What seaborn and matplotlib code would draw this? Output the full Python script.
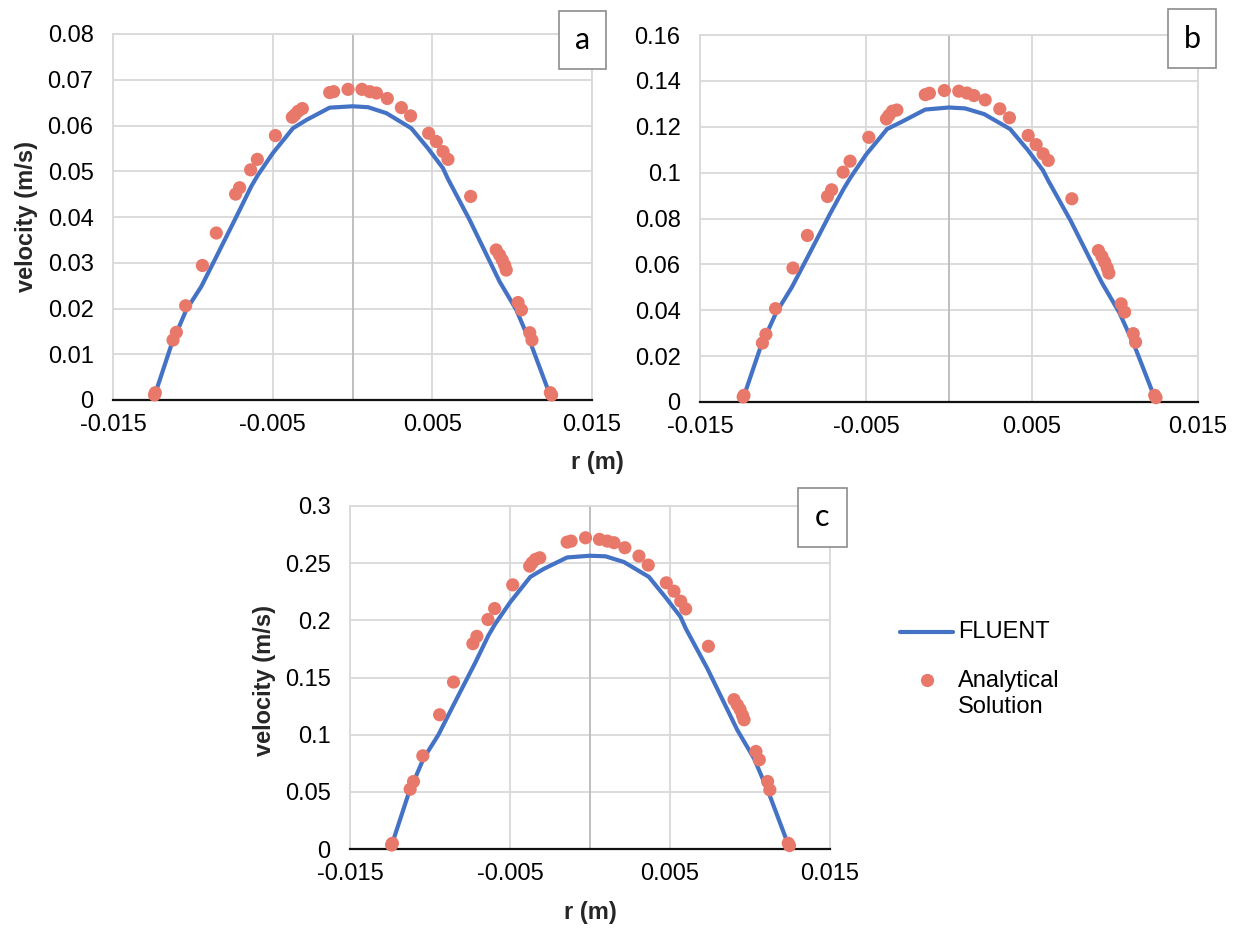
import numpy as np
import pandas as pd
import matplotlib
matplotlib.use("Agg")
import matplotlib.pyplot as plt
import seaborn as sns
from matplotlib.patches import Rectangle
from matplotlib.lines import Line2D

# ---------------- data ----------------
r_analytical = [-0.0124, -0.01235, -0.01124, -0.01103, -0.01045, -0.0094, -0.00853,
                -0.00732, -0.00707, -0.00638, -0.00596, -0.00483, -0.00377, -0.00362,
                -0.00341, -0.00314, -0.00143, -0.00118, -0.00028,
                0.00059, 0.00108, 0.0015, 0.00218, 0.00306, 0.00364, 0.00477, 0.00525,
                0.00567, 0.00598, 0.0074, 0.009, 0.00921, 0.00938, 0.00953, 0.00963,
                0.01037, 0.01058, 0.0111, 0.01124, 0.01239, 0.01247]

v_analytical_a = [0.0011, 0.0016, 0.0131, 0.0148, 0.0206, 0.0294, 0.0365, 0.0450, 0.0464,
                  0.0503, 0.0526, 0.0578, 0.0618, 0.0623, 0.0631, 0.0637, 0.0672, 0.0674,
                  0.0679,
                  0.0679, 0.0674, 0.0671, 0.0659, 0.0639, 0.0621, 0.0583, 0.0565, 0.0543,
                  0.0526, 0.0445, 0.0328, 0.0317, 0.0306, 0.0295, 0.0284, 0.0213, 0.0197,
                  0.0147, 0.0131, 0.0016, 0.0011]

v_analytical_b = [0.0022, 0.0029, 0.0257, 0.0295, 0.0407, 0.0584, 0.0726, 0.0896, 0.0925,
                  0.1002, 0.1050, 0.1154, 0.1234, 0.1249, 0.1268, 0.1273, 0.1340, 0.1346,
                  0.1358,
                  0.1355, 0.1347, 0.1336, 0.1317, 0.1278, 0.1239, 0.1162, 0.1122, 0.1082,
                  0.1053, 0.0886, 0.0660, 0.0635, 0.0610, 0.0585, 0.0562, 0.0428, 0.0392,
                  0.0298, 0.0261, 0.0029, 0.0019]

v_analytical_c = [0.0035, 0.0050, 0.0523, 0.0590, 0.0815, 0.1174, 0.1460, 0.1796, 0.1860,
                  0.2007, 0.2103, 0.2310, 0.2474, 0.2503, 0.2533, 0.2547, 0.2684, 0.2693,
                  0.2722,
                  0.2708, 0.2693, 0.2679, 0.2635, 0.2562, 0.2483, 0.2328, 0.2255, 0.2167,
                  0.2100, 0.1773, 0.1306, 0.1260, 0.1220, 0.1170, 0.1130, 0.0853, 0.0780,
                  0.0590, 0.0517, 0.0050, 0.0030]

r_fluent = [-0.01224, -0.01135, -0.01041, -0.00947, -0.00853, -0.00717, -0.00634, -0.00592,
            -0.00498, -0.00373, -0.00289, -0.00143, 0.0, 0.00097, 0.00212, 0.00368,
            0.00473, 0.00566, 0.00598, 0.00733, 0.00921, 0.01026, 0.0112, 0.01225]

v_fluent_a = [0.0026, 0.0120, 0.0197, 0.0248, 0.0313, 0.0408, 0.0467, 0.0492, 0.0540,
              0.0594, 0.0612, 0.0639, 0.0642, 0.0640, 0.0627, 0.0594, 0.0550, 0.0507,
              0.0483, 0.0394, 0.0259, 0.0197, 0.0120, 0.0022]

v_fluent_b = [0.0050, 0.0240, 0.0390, 0.0500, 0.0630, 0.0820, 0.0930, 0.0980, 0.1080,
              0.1190, 0.1220, 0.1275, 0.1284, 0.1280, 0.1255, 0.1190, 0.1100, 0.1010,
              0.0965, 0.0790, 0.0520, 0.0390, 0.0240, 0.0045]

v_fluent_c = [0.0100, 0.0480, 0.0790, 0.1000, 0.1260, 0.1630, 0.1870, 0.1970, 0.2160,
              0.2380, 0.2450, 0.2550, 0.2565, 0.2560, 0.2510, 0.2380, 0.2200, 0.2030,
              0.1930, 0.1580, 0.1040, 0.0790, 0.0480, 0.0090]

x_ticks = [-0.015, -0.005, 0.005, 0.015]
x_tick_labels = ["-0.015", "-0.005", "0.005", "0.015"]
y_ticks_a = [0, 0.01, 0.02, 0.03, 0.04, 0.05, 0.06, 0.07, 0.08]
y_ticks_b = [0, 0.02, 0.04, 0.06, 0.08, 0.1, 0.12, 0.14, 0.16]
y_ticks_c = [0, 0.05, 0.1, 0.15, 0.2, 0.25, 0.3]
panel_letters = ["a", "b", "c"]
legend_labels = ["FLUENT", "Analytical\nSolution"]
x_label = "r (m)"
y_label = "velocity (m/s)"

# ---------------- style ----------------
sns.set_theme(style="white")
plt.rcParams["font.family"] = ["Liberation Sans", "DejaVu Sans"]

LINE_C = "#4472C4"
DOT_C = "#E8786A"
GRID_C = "#D9D9D9"
TICK_FS = 17
LABEL_FS = 17

W, H = 1241, 931
fig = plt.figure(figsize=(W / 100, H / 100), dpi=100)


def px_rect(x0, y0, x1, y1):
    return [x0 / W, 1 - y1 / H, (x1 - x0) / W, (y1 - y0) / H]


ax_a = fig.add_axes(px_rect(113, 34, 592, 400))
ax_b = fig.add_axes(px_rect(700, 35, 1198, 402))
ax_c = fig.add_axes(px_rect(350, 506, 830, 849))

panels = [
    (ax_a, v_fluent_a, v_analytical_a, y_ticks_a),
    (ax_b, v_fluent_b, v_analytical_b, y_ticks_b),
    (ax_c, v_fluent_c, v_analytical_c, y_ticks_c),
]

for ax, vf, va, yt in panels:
    df_f = pd.DataFrame({"r": r_fluent, "v": vf})
    df_a = pd.DataFrame({"r": r_analytical, "v": va})
    ax.set_axisbelow(True)
    ax.grid(True, color=GRID_C, lw=1.3)
    ax.axvline(0, color="#BFBFBF", lw=1.4, zorder=1)
    sns.lineplot(data=df_f, x="r", y="v", ax=ax, color=LINE_C, lw=3.0,
                 sort=False, estimator=None, zorder=2)
    sns.scatterplot(data=df_a, x="r", y="v", ax=ax, color=DOT_C, s=90,
                    edgecolor="none", linewidth=0, zorder=3, clip_on=False)
    ax.set_xlim(-0.015, 0.015)
    ax.set_ylim(0, yt[-1])
    ax.set_xticks(x_ticks)
    ax.set_xticklabels(x_tick_labels)
    ax.set_yticks(yt)
    ax.set_yticklabels([f"{t:g}" for t in yt])
    ax.tick_params(axis="both", length=0, labelsize=TICK_FS, colors="#000000")
    ax.tick_params(axis="y", pad=14)
    ax.tick_params(axis="x", pad=10)
    for side in ["left", "top", "right"]:
        ax.spines[side].set_color(GRID_C)
        ax.spines[side].set_linewidth(1.3)
    ax.spines["bottom"].set_color("#111111")
    ax.spines["bottom"].set_linewidth(1.6)
    ax.spines["bottom"].set_zorder(2.5)
    ax.set_xlabel("")
    ax.set_ylabel("")

# axis titles
ax_a.set_ylabel(y_label, fontsize=LABEL_FS, fontweight="bold")
ax_a.yaxis.set_label_coords((27 - 113) / 479, 0.5)
ax_a.yaxis.label.set_va("center")
ax_a.set_xlabel(x_label, fontsize=LABEL_FS, fontweight="bold")
ax_a.xaxis.set_label_coords((597 - 113) / 479, (400 - 463) / 366)
ax_a.xaxis.label.set_va("center")

ax_c.set_ylabel(y_label, fontsize=LABEL_FS, fontweight="bold")
ax_c.yaxis.set_label_coords((265 - 350) / 480, (849 - 680) / 343)
ax_c.yaxis.label.set_va("center")
ax_c.set_xlabel(x_label, fontsize=LABEL_FS, fontweight="bold")
ax_c.xaxis.set_label_coords(0.5, (849 - 913) / 343)
ax_c.xaxis.label.set_va("center")

# panel letter boxes
boxes = [(559, 10.7, 606, 69.3), (1168, 9.3, 1216, 68.3), (798, 488, 847, 546.7)]
for letter, (x0, y0, x1, y1) in zip(panel_letters, boxes):
    rx, ry, rw, rh = px_rect(x0, y0, x1, y1)
    fig.add_artist(Rectangle((rx, ry), rw, rh, transform=fig.transFigure,
                             facecolor="white", edgecolor="#8C8C8C", lw=1.2, zorder=10))
    fig.text(rx + rw / 2, ry + rh / 2, letter, ha="center", va="center",
             fontsize=22, family=["Lato", "DejaVu Sans"], color="#000000", zorder=11)

# legend (drawn at the right of panel c)
fig.add_artist(Line2D([900 / W, 953 / W], [1 - 632 / H, 1 - 632 / H],
                      transform=fig.transFigure, color=LINE_C, lw=3.0,
                      solid_capstyle="round"))
fig.text(958 / W, 1 - 632 / H, legend_labels[0], ha="left", va="center",
         fontsize=17, color="#000000")
fig.add_artist(Line2D([927 / W], [1 - 680 / H], transform=fig.transFigure,
                      marker="o", markersize=9.5, color=DOT_C, lw=0,
                      markeredgewidth=0))
fig.text(958 / W, 1 - 694 / H, legend_labels[1], ha="left", va="center",
         fontsize=17, color="#000000", linespacing=1.25)

fig.savefig("out.png", dpi=100, facecolor="white")
